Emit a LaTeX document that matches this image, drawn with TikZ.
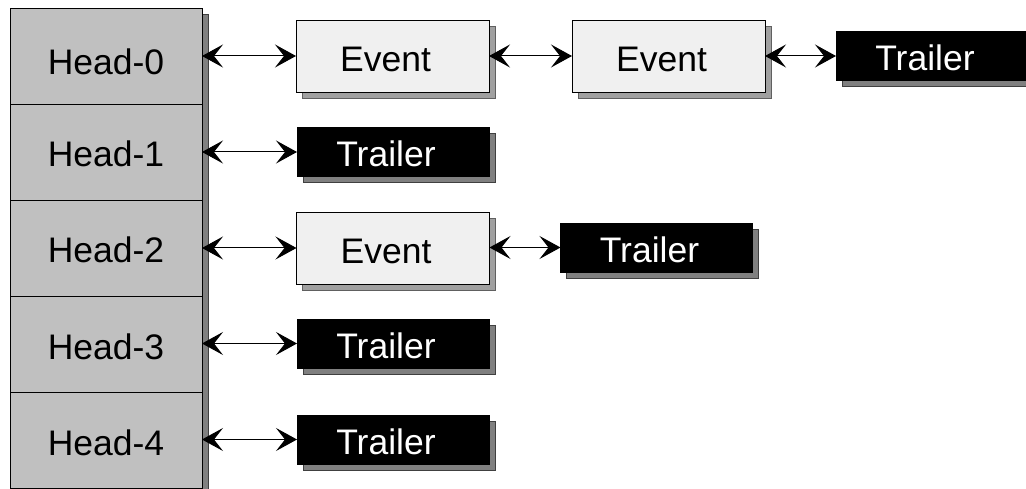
\documentclass[tikz,border=0pt]{standalone}
\usepackage{fontspec}
\setmainfont{Liberation Sans}
\usetikzlibrary{arrows.meta,shadows}

\definecolor{headfill}{HTML}{C0C0C0}
\definecolor{eventfill}{HTML}{F0F0F0}
\definecolor{darkshadow}{HTML}{808080}
\definecolor{darkshadowline}{HTML}{404040}
\definecolor{lightshadow}{HTML}{A0A0A0}
\definecolor{lightshadowline}{HTML}{606060}

\tikzset{
  boxfont/.style={font=\fontsize{35.5}{42}\selectfont},
  darkdrop/.style={general shadow={shadow xshift=6pt, shadow yshift=-6pt,
      fill=darkshadow, draw=darkshadowline, line width=0.9pt}},
  lightdrop/.style={general shadow={shadow xshift=6pt, shadow yshift=-6pt,
      fill=lightshadow, draw=lightshadowline, line width=0.9pt}},
  headcolumn/.style={draw=black, fill=headfill, line width=0.9pt,
      minimum width=192pt, minimum height=480pt, darkdrop},
  headcell/.style={boxfont, draw=black, fill=headfill, line width=0.9pt,
      minimum width=192pt, minimum height=96pt,
      text height=30pt, text depth=0pt},
  eventbox/.style={boxfont, draw=black, fill=eventfill, line width=0.9pt,
      minimum width=193pt, minimum height=72pt,
      text height=31pt, text depth=0pt,
      execute at end node=\hspace{14pt}, lightdrop},
  trailerbox/.style={boxfont, draw=black, fill=black, text=white, line width=0.9pt,
      minimum width=192pt, minimum height=49pt,
      text height=30pt, text depth=0pt,
      execute at end node=\hspace{14pt}, darkdrop},
  link/.style={{Stealth[length=21pt,width=23pt,inset=9pt]}-{Stealth[length=21pt,width=23pt,inset=9pt]},
      line width=1pt}
}

\begin{document}
\begin{tikzpicture}[x=1pt, y=-1pt, every node/.style={inner sep=0pt, outer sep=0pt}]
  \useasboundingbox (0,0) rectangle (1026,489);

  % list heads
  \node[headcolumn] (col) at (106,248) {};
  \node[headcell, text height=38pt] (h0) at (106,56)  {Head-0};
  \node[headcell] (h1) at (106,152) {Head-1};
  \node[headcell] (h2) at (106,248) {Head-2};
  \node[headcell, text height=31pt] (h3) at (106,344) {Head-3};
  \node[headcell, text height=31pt] (h4) at (106,440) {Head-4};

  % row 0
  \node[eventbox]   (e01) at (392.5,56) {Event};
  \node[eventbox]   (e02) at (668.5,56) {Event};
  \node[trailerbox] (t0)  at (932,56)   {Trailer};
  % row 1
  \node[trailerbox] (t1)  at (393,152)  {Trailer};
  % row 2
  \node[eventbox]   (e21) at (393,248)  {Event};
  \node[trailerbox] (t2)  at (656.5,247.5) {Trailer};
  % row 3
  \node[trailerbox] (t3)  at (393,343.5) {Trailer};
  % row 4
  \node[trailerbox] (t4)  at (393,439.5) {Trailer};

  % doubly linked connections
  \draw[link] (h0.east |- e01.west) -- (e01.west);
  \draw[link] (e01.east) -- (e02.west);
  \draw[link] (e02.east) -- (t0.west);
  \draw[link] (h1.east |- t1.west) -- (t1.west);
  \draw[link] (h2.east |- e21.west) -- (e21.west);
  \draw[link] (e21.east |- t2.west) -- (t2.west);
  \draw[link] (h3.east |- t3.west) -- (t3.west);
  \draw[link] (h4.east |- t4.west) -- (t4.west);
\end{tikzpicture}
\end{document}
